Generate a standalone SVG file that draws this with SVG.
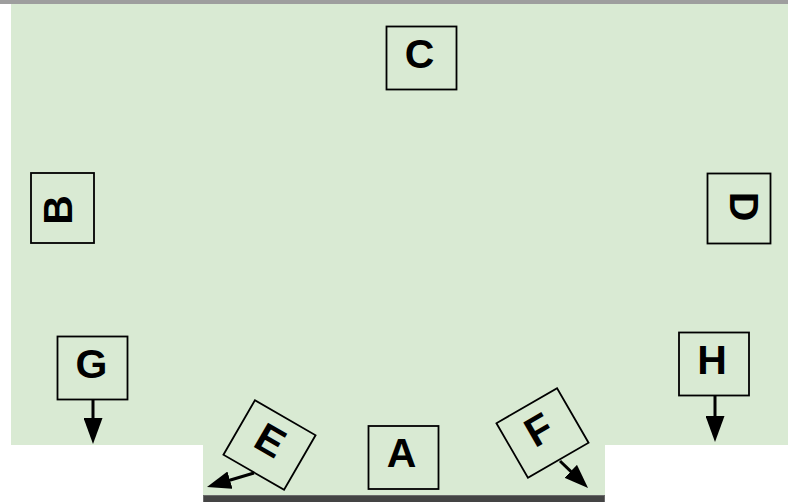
<svg xmlns="http://www.w3.org/2000/svg" width="788" height="502" viewBox="0 0 788 502">
  <style>
    .box { fill: none; stroke: #000; stroke-width: 1.8; }
    .lbl { font-family: "Liberation Sans", Arial, sans-serif; font-weight: bold; font-size: 41px; fill: #000; text-anchor: middle; }
    .conn { fill: none; stroke: #000; stroke-width: 3; }
  </style>
  <defs>
    <marker id="arrowL" markerUnits="userSpaceOnUse" viewBox="0 0 26 19" markerWidth="26" markerHeight="19" refX="4" refY="9.5" orient="auto">
      <path d="M0,0 L26,9.5 L0,19 Z" fill="#000"/>
    </marker>
    <marker id="arrowS" markerUnits="userSpaceOnUse" viewBox="0 0 24 18" markerWidth="24" markerHeight="18" refX="3" refY="9" orient="auto">
      <path d="M0,0 L24,9 L0,18 Z" fill="#000"/>
    </marker>
  </defs>

  <g id="background">
    <rect x="0" y="0" width="788" height="502" fill="#ffffff"/>
    <path d="M11,4 H788 V445 H605 V495 H203 V445 H11 Z" fill="#d9ead3"/>
    <rect x="0" y="0" width="788" height="4" fill="#9e9e9e"/>
    <rect x="203.5" y="495.5" width="401" height="7" fill="#444444" stroke="#6a6a6a" stroke-width="1"/>
  </g>

  <g id="connectors">
    <path class="conn" d="M93,400 L93,422" marker-end="url(#arrowL)"/>
    <path class="conn" d="M715,396 L715,420" marker-end="url(#arrowL)"/>
    <path class="conn" d="M254,473 L227.1,481" marker-end="url(#arrowS)"/>
    <path class="conn" d="M560,461 L572.9,473.4" marker-end="url(#arrowS)"/>
  </g>

  <g id="node-C" transform="translate(421.5,58)">
    <rect class="box" x="-35" y="-31.5" width="70" height="63"/>
    <text class="lbl" x="-2" y="9.5">C</text>
  </g>
  <g id="node-B" transform="translate(62.5,208) rotate(-90)">
    <rect class="box" x="-35" y="-31.5" width="70" height="63"/>
    <text class="lbl" x="-2" y="9.5">B</text>
  </g>
  <g id="node-D" transform="translate(739,208.5) rotate(90)">
    <rect class="box" x="-35" y="-31.5" width="70" height="63"/>
    <text class="lbl" x="-2" y="9.5">D</text>
  </g>
  <g id="node-G" transform="translate(92.5,368)">
    <rect class="box" x="-35" y="-31.5" width="70" height="63"/>
    <text class="lbl" x="-1" y="9.5">G</text>
  </g>
  <g id="node-H" transform="translate(714,364)">
    <rect class="box" x="-35" y="-31.5" width="70" height="63"/>
    <text class="lbl" x="-2" y="9.5">H</text>
  </g>
  <g id="node-A" transform="translate(403.5,457.5)">
    <rect class="box" x="-35" y="-31.5" width="70" height="63"/>
    <text class="lbl" x="-2" y="9.5">A</text>
  </g>
  <g id="node-E" transform="translate(269.5,445) rotate(30)">
    <rect class="box" x="-35" y="-31.5" width="70" height="63"/>
    <text class="lbl" x="-1.5" y="9.5">E</text>
  </g>
  <g id="node-F" transform="translate(542.5,433) rotate(-30)">
    <rect class="box" x="-35" y="-31.5" width="70" height="63"/>
    <text class="lbl" x="-1.5" y="9.5">F</text>
  </g>
</svg>
